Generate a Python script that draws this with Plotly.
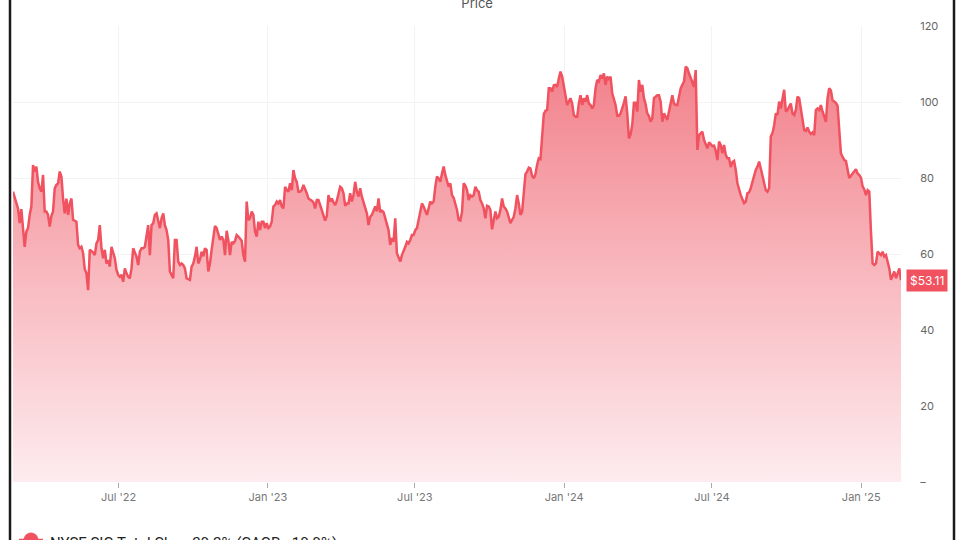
import pandas as pd
import plotly.graph_objects as go

# ---- data (SIG closing price) ----
start_date = "2022-02-21"
end_date = "2025-02-19"

prices_2022_h1 = [76.4, 75.1, 73.3, 72.0, 68.1, 71.8, 66.8, 61.9, 65.9, 66.8,
                  70.3, 72.5, 83.4, 81.7, 83.0, 79.0, 77.3, 76.4, 80.8, 71.2,
                  71.2, 70.3, 67.2, 70.0, 71.2, 77.3, 78.2, 78.6, 81.7, 80.4,
                  74.6, 70.7, 74.6, 70.3, 73.3, 74.6, 69.0, 68.8, 68.5, 62.4,
                  61.5, 61.9, 60.2, 56.0, 54.9, 50.5, 61.1, 60.8, 60.4, 59.7,
                  62.8, 63.7, 67.6, 61.5, 58.9, 61.1, 57.5, 58.4, 56.7, 61.9,
                  60.4, 58.9, 55.8, 54.5, 54.0, 54.5, 52.7, 56.2, 54.9, 54.0,
                  53.6, 56.2, 61.5, 60.2, 59.3, 57.1, 60.6, 61.5, 61.5, 61.9,
                  64.6, 67.6]
prices_2022_h2 = [59.7, 67.6, 68.1, 70.3, 70.7, 68.5, 66.8, 69.4, 70.7, 67.6,
                  66.3, 63.7, 55.4, 54.5, 53.6, 63.7, 63.7, 58.0, 57.1, 57.5,
                  57.1, 56.2, 53.6, 53.4, 53.2, 56.7, 57.5, 59.3, 61.9, 57.5,
                  58.5, 60.6, 59.4, 61.5, 61.1, 55.4, 57.5, 61.1, 65.0, 67.4,
                  66.8, 65.4, 63.7, 64.6, 63.7, 59.7, 66.1, 63.7, 59.7, 63.2,
                  62.8, 63.4, 65.0, 64.6, 64.1, 63.5, 59.7, 58.0, 73.8, 68.9,
                  69.4, 71.2, 70.3, 65.9, 64.6, 68.5, 66.3, 68.5, 68.5, 66.8,
                  68.1, 66.8, 67.2, 68.5, 72.5, 72.9, 73.8, 73.3, 74.2, 72.5,
                  72.0, 77.7, 76.8, 76.4, 78.6, 76.8, 82.1, 79.9, 79.0, 76.4]
prices_2023_h1 = [76.4, 76.8, 78.2, 77.3, 76.0, 74.6, 74.4, 74.0, 73.6, 72.0,
                  74.2, 74.2, 72.9, 71.6, 70.7, 68.8, 70.0, 75.5, 73.8, 74.6,
                  73.6, 72.9, 74.0, 76.0, 77.7, 77.3, 76.0, 72.7, 73.3, 73.3,
                  76.0, 73.8, 75.5, 79.0, 76.4, 75.1, 77.3, 75.1, 73.8, 72.0,
                  70.7, 67.6, 69.8, 70.3, 71.2, 72.5, 71.2, 74.6, 71.0, 71.4,
                  71.0, 69.4, 67.6, 66.3, 62.4, 64.2, 63.2, 69.4, 60.2, 59.3,
                  58.0, 59.7, 60.6, 61.9, 63.2, 62.8, 63.7, 65.0, 65.0, 66.3,
                  66.8, 69.0, 71.2, 73.3, 72.5, 71.2, 70.3, 72.0, 73.8, 73.3,
                  73.8, 77.7, 80.4, 79.9, 79.0, 81.2, 83.0, 80.8, 79.0, 77.7]
prices_2023_h2 = [78.6, 75.5, 74.8, 73.5, 71.6, 69.0, 68.8, 71.0, 78.6, 78.0,
                  76.8, 74.2, 75.5, 75.1, 75.5, 77.7, 76.8, 76.4, 74.2, 73.3,
                  72.0, 69.4, 72.7, 72.5, 71.6, 66.5, 69.4, 71.2, 69.4, 69.8,
                  71.6, 74.6, 72.5, 72.0, 71.2, 69.4, 68.1, 69.0, 69.8, 72.0,
                  75.5, 73.3, 70.3, 71.0, 75.5, 81.0, 81.7, 82.7, 82.5, 80.6,
                  79.9, 81.0, 83.5, 85.2, 85.0, 91.3, 96.8, 97.7, 97.9, 103.6,
                  103.6, 102.7, 104.4, 104.5, 104.0, 106.2, 108.0, 106.7, 104.5, 101.4,
                  99.2, 100.1, 101.0, 99.6, 96.6, 96.1, 96.1, 99.6, 101.8, 99.2,
                  101.0, 100.1, 101.8, 99.6, 99.2, 98.3, 99.2, 103.6, 105.8, 105.4]
prices_2024_h1 = [107.1, 106.2, 107.5, 104.5, 106.7, 105.8, 106.7, 102.3, 101.0, 99.2,
                  96.4, 96.4, 97.0, 98.8, 99.8, 101.5, 97.0, 90.4, 91.5, 94.0,
                  99.8, 99.8, 97.5, 105.8, 102.7, 104.5, 101.0, 99.4, 97.0, 96.3,
                  94.8, 95.7, 101.0, 101.4, 101.8, 101.8, 100.1, 94.8, 97.0, 96.1,
                  95.3, 97.5, 99.6, 101.8, 99.6, 99.2, 99.2, 101.0, 103.6, 104.5,
                  105.4, 109.3, 108.9, 107.5, 106.2, 105.4, 104.0, 108.4, 87.4, 91.3,
                  91.8, 92.2, 90.0, 89.1, 87.8, 89.4, 88.9, 88.4, 88.5, 87.2,
                  84.7, 89.6, 88.7, 86.5, 88.7, 86.1, 85.2, 85.2, 82.9, 84.2,
                  84.5, 82.1, 78.6, 76.7, 75.5, 74.4, 73.4, 73.8, 76.0, 76.2]
prices_2024_h2 = [77.3, 79.0, 80.8, 82.1, 83.0, 84.3, 82.5, 80.8, 78.6, 76.8,
                  76.4, 77.3, 90.9, 91.8, 93.9, 97.0, 96.6, 100.1, 98.3, 101.0,
                  103.2, 97.5, 97.9, 98.8, 99.6, 97.0, 96.6, 97.9, 101.4, 101.0,
                  98.3, 95.7, 92.6, 92.4, 93.3, 92.2, 91.6, 92.0, 91.3, 97.9,
                  98.3, 97.9, 99.2, 97.5, 96.1, 94.8, 101.0, 103.6, 103.0, 100.5,
                  100.1, 99.8, 99.0, 91.3, 86.5, 85.6, 84.7, 84.5, 82.0, 80.0,
                  80.6, 81.2, 81.5, 82.3, 81.2, 80.8, 80.1, 77.8, 77.0, 75.5,
                  76.8, 76.4, 65.9, 57.5, 57.1, 57.5, 60.6, 60.2, 59.7, 60.6,
                  59.3, 59.7, 58.0, 56.2, 53.2, 54.5, 55.4, 53.6, 54.9, 56.2,
                  53.11]

x_tick_dates = ["2022-07-01", "2023-01-01", "2023-07-01", "2024-01-01", "2024-07-01", "2025-01-01"]
x_tick_labels = ["Jul '22", "Jan '23", "Jul '23", "Jan '24", "Jul '24", "Jan '25"]
y_tick_values = [0, 20, 40, 60, 80, 100, 120]
y_tick_labels = ["\u2013", "20", "40", "60", "80", "100", "120"]

chart_title = "Price"
legend_text = "NYSE:SIG Total Chg: -29.2% (CAGR: -10.9%)"

prices = (prices_2022_h1 + prices_2022_h2 + prices_2023_h1 +
          prices_2023_h2 + prices_2024_h1 + prices_2024_h2)
dates = pd.date_range(start_date, end_date, periods=len(prices))
last_price = prices[-1]

LINE = "rgb(240,82,96)"

fig = go.Figure()
fig.add_trace(go.Scatter(
    x=dates, y=prices, mode="lines",
    line=dict(color=LINE, width=2.5),
    fill="tozeroy",
    fillgradient=dict(type="vertical", start=0, stop=110,
                      colorscale=[[0, "rgb(253,236,239)"],
                                  [0.5, "rgb(248,184,190)"],
                                  [1, "rgb(242,128,138)"]]),
    hoverinfo="skip", showlegend=False,
))

fig.update_layout(
    width=960, height=540,
    margin=dict(l=13, r=59, t=26, b=58),
    paper_bgcolor="white", plot_bgcolor="white",
    font=dict(family="Inter, Roboto, sans-serif", color="#666", size=11),
    title=dict(text=chart_title, x=0.497, xref="container", xanchor="center",
               y=1 - 3 / 540, yref="container", yanchor="middle",
               font=dict(size=13, color="#555")),
    xaxis=dict(
        range=[dates[0], dates[-1]],
        tickvals=x_tick_dates, ticktext=x_tick_labels,
        showgrid=True, gridcolor="#f3f3f3", gridwidth=1,
        ticks="outside", ticklen=5, tickcolor="#aaa",
        showline=False, zeroline=False, automargin=False,
        tickfont=dict(size=11, color="#777"),
    ),
    yaxis=dict(
        side="right", range=[0, 120],
        tickvals=y_tick_values, ticktext=y_tick_labels,
        showgrid=True, gridcolor="#f3f3f3", gridwidth=1,
        zeroline=False, showline=False, automargin=False,
        ticks="outside", ticklen=16, tickcolor="rgba(0,0,0,0)",
        tickfont=dict(size=11, color="#666"),
    ),
    showlegend=False,
)

# last price badge
fig.add_annotation(
    xref="paper", x=1, xanchor="left", xshift=5,
    yref="y", y=last_price, yanchor="middle",
    text="$%.2f" % last_price, showarrow=False,
    bgcolor=LINE, borderpad=3,
    font=dict(color="white", size=12),
)

# legend row at bottom (partly cut off as in the source)
fig.add_annotation(
    xref="paper", x=0, xanchor="left", xshift=35,
    yref="paper", y=0, yanchor="middle", yshift=-61,
    text=legend_text, showarrow=False,
    font=dict(color="#222", size=15, family="Roboto, sans-serif"),
)
fig.add_shape(type="circle", xref="paper", yref="paper",
              x0=(24 - 13) / 888, x1=(38 - 13) / 888,
              y0=(482 - 547) / 456, y1=(482 - 533) / 456,
              fillcolor=LINE, line=dict(color=LINE, width=1))
fig.add_shape(type="line", xref="paper", yref="paper",
              x0=(19 - 13) / 888, x1=(43 - 13) / 888,
              y0=(482 - 540) / 456, y1=(482 - 540) / 456,
              line=dict(color=LINE, width=2.5))

# device frame lines
for px in (10, 954):
    fig.add_shape(type="line", xref="paper", yref="paper",
                  x0=(px - 13) / 888, x1=(px - 13) / 888,
                  y0=-0.2, y1=1.2, line=dict(color="#1a1a1a", width=2.5))

fig.write_html(
    "out.html",
    config={"displayModeBar": False, "staticPlot": True},
    post_script="document.body.style.margin='0';document.body.style.overflow='hidden';",
)
